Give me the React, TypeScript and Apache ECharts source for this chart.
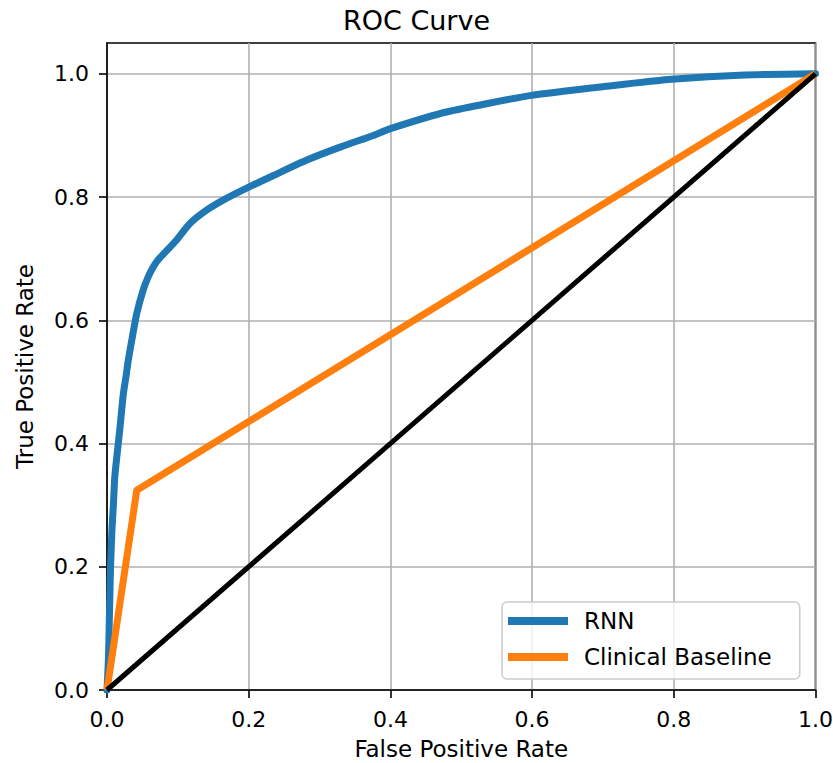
import React, { useEffect, useRef } from "react";
import * as echarts from "echarts";

const rnnFpr = [0, 0.002, 0.003, 0.004, 0.005, 0.007, 0.009, 0.011, 0.014, 0.018, 0.023, 0.027, 0.030, 0.035, 0.042, 0.051, 0.058, 0.065, 0.072, 0.080, 0.098, 0.117, 0.141, 0.164, 0.2, 0.235, 0.282, 0.329, 0.376, 0.40, 0.479, 0.599, 0.715, 0.797, 0.9, 1.0];
const rnnTpr = [0, 0.05, 0.1, 0.15, 0.2, 0.26, 0.30, 0.346, 0.38, 0.422, 0.48, 0.51, 0.535, 0.568, 0.611, 0.649, 0.670, 0.686, 0.698, 0.708, 0.730, 0.757, 0.779, 0.795, 0.816, 0.835, 0.860, 0.881, 0.900, 0.911, 0.938, 0.965, 0.981, 0.991, 0.998, 1.0];

const clinFpr = [0, 0.042, 1.0];
const clinTpr = [0, 0.324, 1.0];

const diagFpr = [0, 1];
const diagTpr = [0, 1];

const tickValues = [0, 0.2, 0.4, 0.6, 0.8, 1.0];

const FONT = "DejaVu Sans";

export default function App() {
  const ref = useRef<HTMLDivElement>(null);
  useEffect(() => {
    document.body.style.margin = "0";
    if (!ref.current) return;
    const chart = echarts.init(ref.current, null, { renderer: "svg" });
    const pairs = (xs: number[], ys: number[]) => xs.map((x, i) => [x, ys[i]]);
    const axisCommon = {
      type: "value" as const,
      axisLine: { show: true, onZero: false, lineStyle: { color: "#000", width: 1.6 } },
      axisTick: { show: true, inside: false, length: 8, customValues: tickValues, lineStyle: { color: "#000", width: 1.6 } },
      axisLabel: {
        customValues: tickValues,
        formatter: (v: number) => v.toFixed(1),
        color: "#000",
        fontFamily: FONT,
        fontSize: 22,
      },
      splitLine: { show: true, lineStyle: { color: "#b0b0b0", width: 1.6 } },
      nameTextStyle: { color: "#000", fontFamily: FONT, fontSize: 23 },
      nameLocation: "middle" as const,
    };
    chart.setOption({
      animation: false,
      backgroundColor: "#fff",
      title: {
        text: "ROC Curve",
        left: "center",
        top: 2,
        textStyle: { color: "#000", fontFamily: FONT, fontSize: 27, fontWeight: "normal" },
      },
      grid: {
        left: 107,
        right: 17.5,
        top: 43,
        bottom: 73,
        show: true,
        borderColor: "#000",
        borderWidth: 1.6,
        backgroundColor: "transparent",
        containLabel: false,
        outerBoundsMode: "none",
      },
      xAxis: {
        ...axisCommon,
        min: 0,
        max: 1,
        interval: 0.2,
        name: "False Positive Rate",
        nameGap: 47,
        axisLabel: { ...axisCommon.axisLabel, margin: 18 },
      },
      yAxis: {
        ...axisCommon,
        min: 0,
        max: 1.05,
        interval: 0.2,
        name: "True Positive Rate",
        nameGap: 71,
        axisLabel: { ...axisCommon.axisLabel, margin: 18 },
      },
      legend: {
        data: ["RNN", "Clinical Baseline"],
        orient: "vertical",
        left: 502,
        top: 602,
        padding: [7, 28, 10, 6],
        itemWidth: 60,
        itemHeight: 8,
        itemGap: 12,
        icon: "rect",
        backgroundColor: "rgba(255,255,255,0.8)",
        borderColor: "#cccccc",
        borderWidth: 1.5,
        borderRadius: 5,
        textStyle: { color: "#000", fontFamily: FONT, fontSize: 23, lineHeight: 24, padding: [0, 0, 0, 11] },
      },
      series: [
        {
          name: "RNN",
          type: "line",
          data: pairs(rnnFpr, rnnTpr),
          showSymbol: false,
          symbol: "none",
          smooth: 0.2,
          color: "#1f77b4",
          lineStyle: { color: "#1f77b4", width: 7, join: "round", cap: "round" },
        },
        {
          name: "Clinical Baseline",
          type: "line",
          data: pairs(clinFpr, clinTpr),
          showSymbol: false,
          symbol: "none",
          color: "#ff7f0e",
          lineStyle: { color: "#ff7f0e", width: 7, join: "round", cap: "butt" },
        },
        {
          name: "Chance",
          type: "line",
          data: pairs(diagFpr, diagTpr),
          showSymbol: false,
          symbol: "none",
          color: "#000",
          lineStyle: { color: "#000", width: 5 },
        },
      ],
    });
    return () => chart.dispose();
  }, []);
  return <div ref={ref} style={{ width: 833, height: 763 }} />;
}
